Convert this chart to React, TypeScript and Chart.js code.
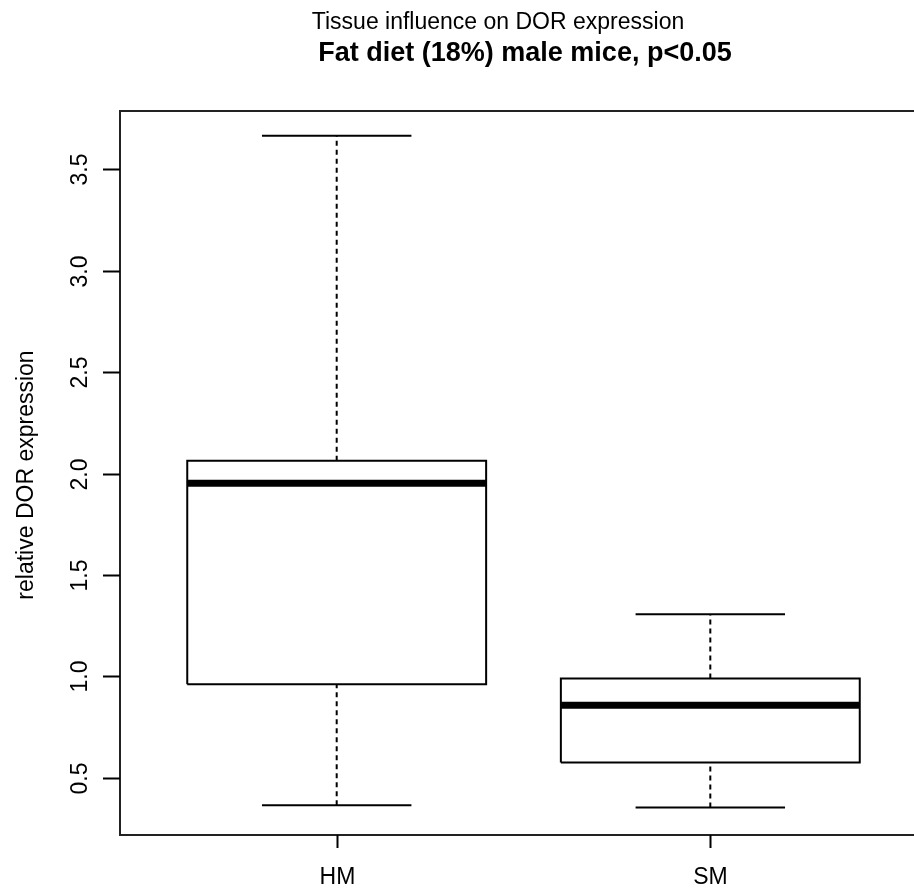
import React, { useEffect, useRef } from "react";
import { Chart, registerables } from "chart.js";

Chart.register(...registerables);

// ---- data ----
const categories = ["HM", "SM"];
const positions = [1, 2];
const whiskerLow = [0.365, 0.354];
const q1 = [0.962, 0.576];
const median = [1.952, 0.858];
const q3 = [2.063, 0.99];
const whiskerHigh = [3.664, 1.307];
const yTicks = [0.5, 1.0, 1.5, 2.0, 2.5, 3.0, 3.5];
const yTickLabels = ["0.5", "1.0", "1.5", "2.0", "2.5", "3.0", "3.5"];
const titleLine1 = "Tissue influence on DOR expression";
const titleLine2 = "Fat diet (18%) male mice, p<0.05";
const yAxisTitle = "relative DOR expression";

const BOX_HALF = 0.4;
const CAP_HALF = 0.2;
const FONT = '"Liberation Sans", Arial, Helvetica, sans-serif';

function seg(data: { x: number; y: number }[], extra: any = {}) {
  return {
    data,
    showLine: true,
    pointRadius: 0,
    pointHoverRadius: 0,
    borderColor: "#000",
    borderWidth: 2,
    fill: false,
    tension: 0,
    borderCapStyle: "butt",
    borderJoinStyle: "miter",
    ...extra,
  };
}

function buildDatasets() {
  const ds: any[] = [];
  positions.forEach((p, i) => {
    // whiskers
    ds.push(seg([{ x: p, y: q3[i] }, { x: p, y: whiskerHigh[i] }], { borderDash: [5, 4] }));
    ds.push(seg([{ x: p, y: whiskerLow[i] }, { x: p, y: q1[i] }], { borderDash: [5, 4] }));
    // caps
    ds.push(seg([{ x: p - CAP_HALF, y: whiskerHigh[i] }, { x: p + CAP_HALF, y: whiskerHigh[i] }]));
    ds.push(seg([{ x: p - CAP_HALF, y: whiskerLow[i] }, { x: p + CAP_HALF, y: whiskerLow[i] }]));
    // box
    ds.push(
      seg([
        { x: p - BOX_HALF, y: q1[i] },
        { x: p + BOX_HALF, y: q1[i] },
        { x: p + BOX_HALF, y: q3[i] },
        { x: p - BOX_HALF, y: q3[i] },
        { x: p - BOX_HALF, y: q1[i] },
      ])
    );
    // median
    ds.push(seg([{ x: p - BOX_HALF, y: median[i] }, { x: p + BOX_HALF, y: median[i] }], { borderWidth: 7 }));
  });
  return ds;
}

const axesPlugin = {
  id: "rStyleAxes",
  afterDraw(chart: any) {
    const ctx = chart.ctx as CanvasRenderingContext2D;
    const { left, right, top, bottom } = chart.chartArea;
    const xs = chart.scales.x;
    const ys = chart.scales.y;
    ctx.save();
    // frame
    ctx.strokeStyle = "#222";
    ctx.lineWidth = 2;
    ctx.strokeRect(left, top, right - left, bottom - top);

    ctx.fillStyle = "#000";
    ctx.strokeStyle = "#000";
    // y ticks
    ctx.font = `23px ${FONT}`;
    yTicks.forEach((v, i) => {
      const y = Math.round(ys.getPixelForValue(v)) + 0.5;
      ctx.beginPath();
      ctx.moveTo(left - 17, y);
      ctx.lineTo(left, y);
      ctx.stroke();
      ctx.save();
      ctx.translate(87, y);
      ctx.rotate(-Math.PI / 2);
      ctx.textAlign = "center";
      ctx.textBaseline = "alphabetic";
      ctx.fillText(yTickLabels[i], 0, 0);
      ctx.restore();
    });
    // x ticks
    positions.forEach((p, i) => {
      const x = Math.round(xs.getPixelForValue(p)) + 0.5;
      ctx.beginPath();
      ctx.moveTo(x, bottom);
      ctx.lineTo(x, bottom + 13);
      ctx.stroke();
      ctx.textAlign = "center";
      ctx.textBaseline = "alphabetic";
      ctx.fillText(categories[i], x, 884);
    });
    // y axis title
    ctx.save();
    ctx.translate(33, (top + bottom) / 2 + 2);
    ctx.rotate(-Math.PI / 2);
    ctx.textAlign = "center";
    ctx.fillText(yAxisTitle, 0, 0);
    ctx.restore();
    // titles
    ctx.textAlign = "center";
    ctx.font = `23px ${FONT}`;
    ctx.fillText(titleLine1, 498, 29);
    ctx.font = `bold 27px ${FONT}`;
    ctx.fillText(titleLine2, 525, 61);
    ctx.restore();
  },
};

export default function App() {
  const ref = useRef<HTMLCanvasElement | null>(null);
  useEffect(() => {
    if (!ref.current) return;
    const chart = new Chart(ref.current, {
      type: "scatter",
      data: { datasets: buildDatasets() },
      options: {
        animation: false,
        responsive: false,
        devicePixelRatio: 1,
        layout: { padding: { left: 120, top: 111, right: 8, bottom: 53 } },
        plugins: { legend: { display: false }, tooltip: { enabled: false }, title: { display: false } },
        scales: {
          x: { type: "linear", min: 0.42, max: 2.58, display: false },
          y: { type: "linear", min: 0.219, max: 3.786, display: false },
        },
        events: [],
      } as any,
      plugins: [axesPlugin],
    });
    return () => chart.destroy();
  }, []);
  return (
    <div
      style={{
        position: "absolute",
        left: 0,
        top: 0,
        width: 914,
        height: 888,
        overflow: "hidden",
        background: "#fff",
      }}
    >
      <canvas ref={ref} width={935} height={888} style={{ width: 935, height: 888, display: "block" }} />
    </div>
  );
}
